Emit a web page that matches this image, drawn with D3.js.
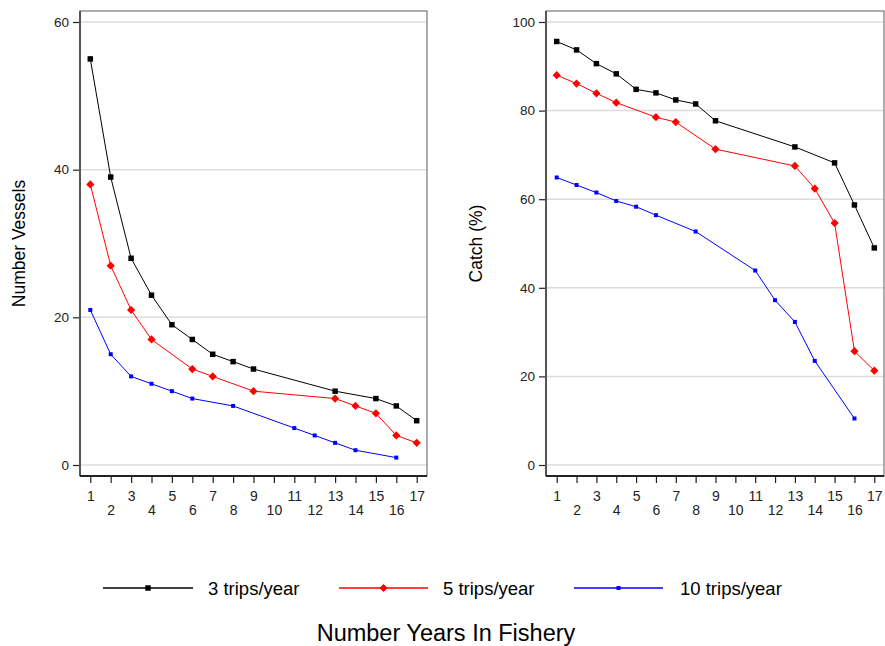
<!DOCTYPE html>
<html>
<head>
<meta charset="utf-8">
<script src="https://cdn.jsdelivr.net/npm/d3@7"></script>
<style>
  html, body { margin: 0; padding: 0; background: #fff; }
  svg { display: block; font-family: "Liberation Sans", Arial, sans-serif; }
</style>
</head>
<body>
<svg id="chart" width="885" height="646"></svg>
<script>
// ---- Data ----
const seriesNames = ["3 trips/year", "5 trips/year", "10 trips/year"];
const years3 = [1, 2, 3, 4, 5, 6, 7, 8, 9, 13, 15, 16, 17];
const years5 = [1, 2, 3, 4, 6, 7, 9, 13, 14, 15, 16, 17];
const years10 = [1, 2, 3, 4, 5, 6, 8, 11, 12, 13, 14, 16];

const vessels3 = [55, 39, 28, 23, 19, 17, 15, 14, 13, 10, 9, 8, 6];
const vessels5 = [38, 27, 21, 17, 13, 12, 10, 9, 8, 7, 4, 3];
const vessels10 = [21, 15, 12, 11, 10, 9, 8, 5, 4, 3, 2, 1];

const catch3 = [95.6, 93.7, 90.6, 88.3, 84.8, 84.0, 82.4, 81.5, 77.7, 71.8, 68.2, 58.7, 49.0];
const catch5 = [88.0, 86.1, 83.9, 81.8, 78.5, 77.4, 71.3, 67.5, 62.4, 54.6, 25.7, 21.3];
const catch10 = [64.9, 63.2, 61.5, 59.6, 58.3, 56.4, 52.7, 43.9, 37.2, 32.3, 23.5, 10.5];

const xTicks = [1, 2, 3, 4, 5, 6, 7, 8, 9, 10, 11, 12, 13, 14, 15, 16, 17];
const vesselTicks = [0, 20, 40, 60];
const catchTicks = [0, 20, 40, 60, 80, 100];

const xTitle = "Number Years In Fishery";
const vesselTitle = "Number Vessels";
const catchTitle = "Catch (%)";

// ---- Styles ----
const colors = ["#000000", "#ff0000", "#0000ff"];
const symSizes = [30, 34, 16];
const symRotate = [0, 45, 0];

const svg = d3.select("#chart");
const sym = i => d3.symbol().type(d3.symbolSquare).size(symSizes[i]);

function panel(cfg) {
  const g = svg.append("g");
  const x = d3.scaleLinear().domain([1, 17]).range([cfg.x1, cfg.x17]);
  const y = d3.scaleLinear().domain([0, cfg.yMax]).range([cfg.y0, cfg.yTop]);

  // gridlines
  g.append("g").selectAll("line").data(cfg.yTicks).join("line")
    .attr("x1", cfg.left).attr("x2", cfg.right)
    .attr("y1", d => y(d)).attr("y2", d => y(d))
    .attr("stroke", "#dcdcdc").attr("stroke-width", 1.5);

  // frame
  g.append("rect")
    .attr("x", cfg.left).attr("y", cfg.top)
    .attr("width", cfg.right - cfg.left).attr("height", cfg.bottom - cfg.top)
    .attr("fill", "none").attr("stroke", "#777").attr("stroke-width", 1.2);

  // y axis
  const yAxis = d3.axisLeft(y).tickValues(cfg.yTicks).tickSize(7).tickPadding(4);
  const ya = g.append("g").attr("transform", `translate(${cfg.left},0)`).call(yAxis);
  ya.select(".domain").remove();
  ya.append("line").attr("x1", 0).attr("x2", 0).attr("y1", cfg.top).attr("y2", cfg.bottom)
    .attr("stroke", "#555").attr("stroke-width", 2);
  ya.selectAll(".tick line").attr("stroke", "#222").attr("stroke-width", 1.2);
  ya.selectAll(".tick text").attr("font-size", 13.5).attr("fill", "#222")
    .attr("font-family", "Liberation Sans, Arial, sans-serif");

  // x axis
  const xAxis = d3.axisBottom(x).tickValues(xTicks).tickSize(7).tickPadding(6);
  const xa = g.append("g").attr("transform", `translate(0,${cfg.bottom})`).call(xAxis);
  xa.select(".domain").remove();
  xa.append("line").attr("x1", cfg.left).attr("x2", cfg.right).attr("y1", 0).attr("y2", 0)
    .attr("stroke", "#222").attr("stroke-width", 2);
  xa.selectAll(".tick line").attr("stroke", "#222").attr("stroke-width", 1.2);
  xa.selectAll(".tick text").attr("font-size", 14).attr("fill", "#222")
    .attr("font-family", "Liberation Sans, Arial, sans-serif")
    .attr("dy", null)
    .attr("y", d => (d % 2 === 1 ? 25 : 39));

  // y title
  g.append("text")
    .attr("transform", `translate(${cfg.titleX},${(cfg.top + cfg.bottom) / 2}) rotate(-90)`)
    .attr("text-anchor", "middle").attr("font-size", 17.5).attr("fill", "#000")
    .text(cfg.title);

  // series
  const line = d3.line().x(d => x(d[0])).y(d => y(d[1]));
  cfg.series.forEach((s, i) => {
    const pts = s.xs.map((v, j) => [v, s.vs[j]]);
    g.append("path").datum(pts).attr("d", line)
      .attr("fill", "none").attr("stroke", colors[i]).attr("stroke-width", 1);
    g.append("g").selectAll("path").data(pts).join("path")
      .attr("transform", d => `translate(${x(d[0])},${y(d[1])}) rotate(${symRotate[i]})`)
      .attr("d", sym(i))
      .attr("fill", colors[i]);
  });
}

panel({
  left: 80, right: 427, top: 11, bottom: 476,
  x1: 90.3, x17: 416.7, y0: 465, yTop: 22, yMax: 60,
  yTicks: vesselTicks, title: vesselTitle, titleX: 25,
  series: [
    { xs: years3, vs: vessels3 },
    { xs: years5, vs: vessels5 },
    { xs: years10, vs: vessels10 }
  ]
});

panel({
  left: 546, right: 884, top: 11, bottom: 476,
  x1: 556.7, x17: 874.3, y0: 465, yTop: 22, yMax: 100,
  yTicks: catchTicks, title: catchTitle, titleX: 482,
  series: [
    { xs: years3, vs: catch3 },
    { xs: years5, vs: catch5 },
    { xs: years10, vs: catch10 }
  ]
});

// legend
const legendItems = [
  { x1: 103, x2: 193, tx: 208 },
  { x1: 339, x2: 428, tx: 443 },
  { x1: 574, x2: 663, tx: 680 }
];
const ly = 588;
const lg = svg.append("g");
legendItems.forEach((it, i) => {
  lg.append("line").attr("x1", it.x1).attr("x2", it.x2).attr("y1", ly).attr("y2", ly)
    .attr("stroke", colors[i]).attr("stroke-width", 1.3);
  lg.append("path").attr("transform", `translate(${(it.x1 + it.x2) / 2},${ly}) rotate(${symRotate[i]})`)
    .attr("d", sym(i)).attr("fill", colors[i]);
  lg.append("text").attr("x", it.tx).attr("y", ly + 6.5)
    .attr("font-size", 18.5).attr("fill", "#000").text(seriesNames[i]);
});

// x title
svg.append("text").attr("x", 446).attr("y", 641)
  .attr("text-anchor", "middle").attr("font-size", 23.5).attr("fill", "#000")
  .text(xTitle);
</script>
</body>
</html>
